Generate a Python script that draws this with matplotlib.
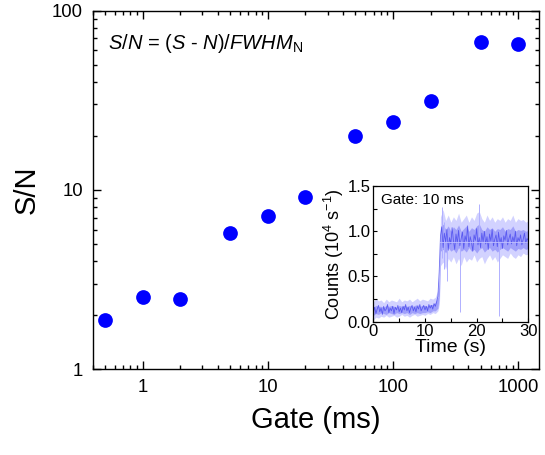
import matplotlib
matplotlib.use("Agg")
import matplotlib.pyplot as plt
from matplotlib.ticker import LogLocator, FixedLocator, NullFormatter, MultipleLocator

plt.rcParams['font.family'] = ['Liberation Sans', 'DejaVu Sans']
plt.rcParams['mathtext.fontset'] = 'custom'
plt.rcParams['mathtext.rm'] = 'Liberation Sans'
plt.rcParams['mathtext.it'] = 'Liberation Sans:italic'

# ---- main data ----
gate_ms = [0.5, 1, 2, 5, 10, 20, 50, 100, 200, 500, 1000]
sn = [1.88, 2.52, 2.46, 5.74, 7.19, 9.14, 20.0, 23.9, 31.4, 66.9, 65.5]
x_ticks = [1, 10, 100, 1000]
x_ticklabels = ['1', '10', '100', '1000']
y_ticks = [1, 10, 100]
y_ticklabels = ['1', '10', '100']

# ---- inset data (read envelope of the noisy trace) ----
t_env = [0, 0.5, 1, 1.5, 2, 2.5, 3, 3.5, 4, 4.5, 5, 5.5, 6, 6.5, 7, 7.5, 8, 8.5, 9, 9.5,
         10, 10.5, 11, 11.5, 12, 12.5, 12.8, 13, 13.5, 14, 14.5, 15, 15.5, 16, 16.5, 17,
         17.5, 18, 18.5, 19, 19.5, 20, 20.5, 21, 21.5, 22, 22.5, 23, 23.5, 24, 24.5,
         25, 25.5, 26, 26.5, 27, 27.5, 28, 28.5, 29, 29.5, 30]
env_lo = [0.02, 0.05, 0.04, 0.06, 0.05, 0.07, 0.05, 0.06, 0.07, 0.05, 0.06, 0.08, 0.06, 0.07, 0.05, 0.07, 0.08, 0.06, 0.07, 0.08,
          0.07, 0.09, 0.08, 0.10, 0.09, 0.12, 0.20, 0.62, 0.66, 0.58, 0.70, 0.66, 0.72, 0.64, 0.70, 0.62,
          0.72, 0.66, 0.70, 0.68, 0.74, 0.66, 0.70, 0.72, 0.64, 0.70, 0.74, 0.68, 0.72, 0.66, 0.70,
          0.74, 0.72, 0.70, 0.76, 0.72, 0.70, 0.74, 0.72, 0.76, 0.74, 0.75]
env_hi = [0.22, 0.26, 0.23, 0.24, 0.21, 0.25, 0.22, 0.24, 0.23, 0.22, 0.26, 0.22, 0.24, 0.23, 0.25, 0.22, 0.24, 0.26, 0.23, 0.25,
          0.24, 0.23, 0.26, 0.25, 0.27, 0.35, 0.60, 1.16, 1.24, 1.12, 1.18, 1.10, 1.16, 1.12, 1.20, 1.10,
          1.14, 1.18, 1.10, 1.16, 1.12, 1.20, 1.22, 1.14, 1.10, 1.18, 1.12, 1.16, 1.10, 1.14, 1.12,
          1.16, 1.10, 1.14, 1.12, 1.18, 1.10, 1.14, 1.12, 1.13, 1.10, 1.12]
core_lo = [0.07, 0.09, 0.08, 0.10, 0.09, 0.08, 0.10, 0.09, 0.08, 0.10, 0.09, 0.10, 0.09, 0.10, 0.08, 0.10, 0.09, 0.10, 0.09, 0.10,
           0.10, 0.11, 0.10, 0.12, 0.12, 0.15, 0.30, 0.78, 0.80, 0.76, 0.82, 0.78, 0.80, 0.76, 0.82, 0.78,
           0.80, 0.77, 0.82, 0.78, 0.80, 0.76, 0.80, 0.82, 0.77, 0.80, 0.82, 0.78, 0.80, 0.77, 0.80,
           0.82, 0.80, 0.78, 0.82, 0.80, 0.78, 0.81, 0.80, 0.82, 0.80, 0.81]
core_hi = [0.16, 0.18, 0.17, 0.17, 0.16, 0.18, 0.17, 0.18, 0.17, 0.16, 0.18, 0.17, 0.18, 0.17, 0.18, 0.17, 0.18, 0.19, 0.17, 0.18,
           0.18, 0.17, 0.19, 0.19, 0.21, 0.27, 0.50, 1.04, 1.08, 1.02, 1.06, 1.00, 1.05, 1.02, 1.07, 1.00,
           1.03, 1.06, 1.00, 1.04, 1.02, 1.06, 1.08, 1.02, 1.00, 1.05, 1.02, 1.04, 1.00, 1.03, 1.02,
           1.05, 1.00, 1.03, 1.02, 1.06, 1.00, 1.02, 1.01, 1.02, 1.00, 1.01]
trace_dt = 0.25
trace = [0.10, 0.16, 0.09, 0.14, 0.18, 0.11, 0.15, 0.08, 0.17, 0.12,
         0.14, 0.19, 0.10, 0.15, 0.12, 0.17, 0.09, 0.16, 0.13, 0.18,
         0.11, 0.15, 0.10, 0.17, 0.13, 0.19, 0.12, 0.16, 0.10, 0.15,
         0.18, 0.12, 0.16, 0.11, 0.17, 0.14, 0.19, 0.12, 0.15, 0.18,
         0.13, 0.17, 0.12, 0.19, 0.15, 0.18, 0.14, 0.20, 0.17, 0.22,
         0.28, 0.55,
         0.95, 1.05, 0.82, 0.98, 0.88, 1.02, 0.79, 0.93, 0.86, 1.04,
         0.90, 0.80, 0.97, 0.87, 1.01, 0.84, 0.92, 0.99, 0.81, 0.95,
         0.89, 1.06, 0.83, 0.94, 0.88, 0.78, 0.96, 0.90, 1.03, 0.85,
         0.93, 0.82, 0.98, 0.88, 1.00, 0.86, 0.94, 0.80, 0.97, 0.89,
         1.02, 0.84, 0.91, 0.96, 0.83, 0.99, 0.87, 0.93, 0.81, 0.95,
         0.90, 1.01, 0.85, 0.92, 0.97, 0.86, 0.94, 0.88, 1.00, 0.84,
         0.93, 0.89, 0.96, 0.85, 0.91, 0.98, 0.87, 0.92, 0.90]
spike_t = [13.3, 13.6, 14.3, 16.8, 20.5, 24.4]
spike_lo = [0.70, 0.58, 0.45, 0.11, 0.80, 0.06]
spike_hi = [1.27, 1.10, 1.00, 1.00, 1.30, 1.00]
mean_t = [13, 30]
mean_v = [0.885, 0.885]

fig = plt.figure(figsize=(5.45, 4.55), dpi=100)
ax = fig.add_axes([0.170, 0.1884, 0.8195, 0.7881])
ax.plot(gate_ms, sn, 'o', color='#0000ff', markersize=10.6, markeredgewidth=0, zorder=3)
ax.set_xscale('log')
ax.set_yscale('log')
ax.set_xlim(0.4, 1470)
ax.set_ylim(1, 100)
ax.xaxis.set_major_locator(FixedLocator(x_ticks))
ax.set_xticklabels(x_ticklabels)
ax.yaxis.set_major_locator(FixedLocator(y_ticks))
ax.set_yticklabels(y_ticklabels)
ax.xaxis.set_minor_locator(LogLocator(base=10, subs=range(2, 10), numticks=20))
ax.yaxis.set_minor_locator(LogLocator(base=10, subs=range(2, 10), numticks=20))
ax.xaxis.set_minor_formatter(NullFormatter())
ax.yaxis.set_minor_formatter(NullFormatter())
ax.tick_params(which='both', direction='in', top=True, right=True, width=1.0, labelsize=13.3, pad=7)
ax.tick_params(which='major', length=5.5)
ax.tick_params(which='minor', length=3)
for s in ax.spines.values():
    s.set_linewidth(1.0)
ax.set_xlabel('Gate (ms)', fontsize=21, labelpad=7)
ax.set_ylabel('S/N', fontsize=21, labelpad=8)
ax.text(0.035, 0.893, r'$S/N$ = ($S$ - $N$)/$FWHM$$_{\mathrm{N}}$', transform=ax.transAxes,
        fontsize=14.5, ha='left', va='baseline')

# ---- inset ----
ins = fig.add_axes([0.685, 0.293, 0.2844, 0.298])
ins.fill_between(t_env, env_lo, env_hi, color='#d2d2ff', lw=0)
ins.vlines(spike_t, spike_lo, spike_hi, color='#b0b0ff', lw=0.7)
ins.fill_between(t_env, core_lo, core_hi, color='#8080f8', lw=0, alpha=0.6)
trace_t = [i * trace_dt for i in range(len(trace))]
ins.plot(trace_t, trace, color='#4848ee', lw=0.6, alpha=0.8)
ins.plot(mean_t, mean_v, color='#c0c0ff', lw=0.6)
ins.set_xlim(0, 30)
ins.set_ylim(0, 1.5)
ins.set_xticks([0, 10, 20, 30])
ins.set_yticks([0.0, 0.5, 1.0, 1.5])
ins.set_yticklabels(['0.0', '0.5', '1.0', '1.5'])
ins.xaxis.set_minor_locator(MultipleLocator(5))
ins.yaxis.set_minor_locator(MultipleLocator(0.25))
ins.tick_params(which='both', direction='in', labelsize=12, width=0.8, pad=2)
ins.tick_params(which='major', length=3)
ins.tick_params(which='minor', length=3)
for s in ins.spines.values():
    s.set_linewidth(0.9)
ins.set_xlabel('Time (s)', fontsize=14, labelpad=0)
ins.set_ylabel(r'Counts (10$^{4}$ s$^{-1}$)', fontsize=13, labelpad=1)
ins.text(0.048, 0.95, 'Gate: 10 ms', transform=ins.transAxes, fontsize=11, ha='left', va='top')

fig.savefig('out.png', dpi=100)
